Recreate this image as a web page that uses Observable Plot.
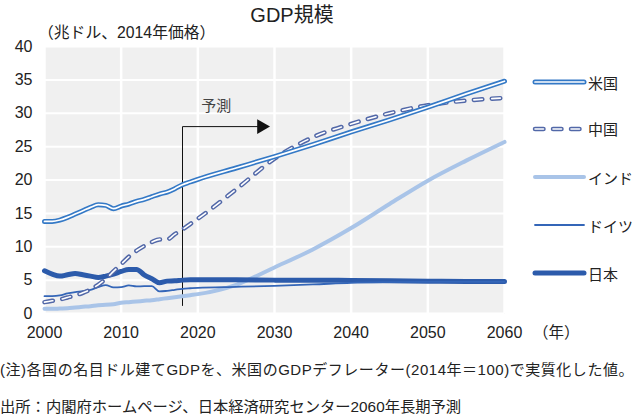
<!DOCTYPE html>
<html>
<head>
<meta charset="utf-8">
<script src="https://cdn.jsdelivr.net/npm/d3@7"></script>
<script src="https://cdn.jsdelivr.net/npm/@observablehq/plot@0.6"></script>
<style>
  html, body { margin: 0; padding: 0; background: #fff; }
  #wrap { position: relative; width: 636px; height: 418px; overflow: hidden;
          font-family: "Liberation Sans", "Noto Sans CJK JP", sans-serif; color: #222; }
  #wrap svg.plot { position: absolute; left: 0; top: 0; }
  .abs { position: absolute; white-space: nowrap; line-height: 1; }
  #title { left: 0; width: 584px; top: 5px; text-align: center; font-size: 20px; }
  #ylab { left: 38px; top: 25px; font-size: 15.8px; }
  #xunit { left: 533px; top: 325px; font-size: 15.5px; }
  #note { left: 0; top: 362px; font-size: 15px; }
  #src { left: 0; top: 399px; font-size: 15.3px; }
  #legend { position: absolute; left: 531px; top: 0; width: 105px; height: 300px; }
  .li { position: absolute; left: 0; width: 105px; display: flex; align-items: center; white-space: nowrap;
        font-size: 15px; line-height: 1; font-family: "Noto Sans CJK JP", sans-serif; }
  .li svg { display: block; margin-right: 1px; flex: none; }
</style>
</head>
<body>
<div id="wrap">
  <div id="title" class="abs">GDP規模</div>
  <div id="ylab" class="abs">（兆ドル、2014年価格）</div>
  <div id="xunit" class="abs">（年）</div>
  <div id="note" class="abs">(注)各国の名目ドル建てGDPを、米国のGDPデフレーター(2014年＝100)で実質化した値。</div>
  <div id="src" class="abs">出所：内閣府ホームページ、日本経済研究センター2060年長期予測</div>
  <div id="legend"></div>
</div>
<script>
// ---- data ----
const years = [2000,2001,2002,2003,2004,2005,2006,2007,2008,2009,2010,2011,2012,2013,2014,2015,2016,2017,2018,2019,2020,2025,2030,2035,2040,2045,2050,2055,2060];
const usa     = [13.8,13.8,14.0,14.4,14.9,15.4,15.9,16.3,16.2,15.7,16.1,16.4,16.8,17.1,17.5,17.9,18.2,18.7,19.3,19.7,20.1,21.8,23.5,25.3,27.2,29.0,30.9,32.9,34.8];
const china   = [1.7,1.9,2.1,2.4,2.7,3.1,3.6,4.3,5.2,6.3,7.4,8.5,9.4,10.1,10.7,11.1,11.1,11.9,12.6,13.4,14.2,18.6,23.2,26.4,28.4,30.0,31.2,31.9,32.3];
const india   = [0.7,0.7,0.75,0.8,0.9,1.0,1.1,1.25,1.3,1.4,1.6,1.7,1.8,1.9,2.0,2.15,2.3,2.45,2.6,2.75,2.9,4.3,6.9,9.6,12.8,16.4,19.9,22.9,25.7];
const germany = [2.6,2.6,2.7,3.0,3.2,3.35,3.55,3.95,4.25,3.9,3.95,4.2,4.05,4.1,4.1,3.3,3.4,3.55,3.7,3.78,3.85,4.0,4.15,4.35,4.6,4.7,4.75,4.75,4.75];
const japan   = [6.4,5.9,5.6,5.8,6.0,5.8,5.6,5.4,5.6,5.9,6.3,6.6,6.6,5.8,5.2,4.6,4.85,4.9,5.0,5.05,5.05,5.05,5.0,5.0,4.95,4.9,4.85,4.8,4.8];

const seriesNames = ["米国","中国","インド","ドイツ","日本"];
const xTicks = [2000,2010,2020,2030,2040,2050,2060];
const yTicks = [0,5,10,15,20,25,30,35,40];

// forecast annotation
const forecastYear = 2018;
const forecastBottom = 1.2;
const forecastTop = 28;
const forecastArrowEnd = 2028.3;
const forecastLabel = "予測";
const forecastLabelPos = {year: 2022.4, value: 31};

// ---- styles ----
const C = {
  usa: "#3479c6", china: "#5268a8", india: "#a9c4e8", germany: "#3466b8", japan: "#2c5bab"
};

const rows = (vals) => years.map((yr, i) => ({year: yr, value: vals[i]}));
const dUS = rows(usa), dCN = rows(china), dIN = rows(india), dDE = rows(germany), dJP = rows(japan);

const arrowPath = [
  {year: forecastYear, value: forecastBottom},
  {year: forecastYear, value: forecastTop},
  {year: forecastArrowEnd, value: forecastTop}
];

const font = '"Liberation Sans", "Noto Sans CJK JP", sans-serif';
const curve = "monotone-x";

const chart = Plot.plot({
  width: 636,
  height: 418,
  marginLeft: 44,
  marginRight: 132,
  marginTop: 46,
  marginBottom: 105,
  x: {domain: [2000, 2060]},
  y: {domain: [0, 40]},
  style: {fontFamily: font, fontSize: "16px", color: "#222", background: "transparent"},
  marks: [
    Plot.frame({fill: "#f0f0f0", stroke: "none"}),
    Plot.gridY(yTicks, {stroke: "#ffffff", strokeOpacity: 1, strokeWidth: 2}),
    Plot.gridX(xTicks, {stroke: "#ffffff", strokeOpacity: 1, strokeWidth: 2.5}),
    Plot.axisX(xTicks, {tickSize: 0, tickPadding: 13, tickFormat: d => String(d), label: null, fontSize: 16}),
    Plot.axisY(yTicks, {tickSize: 0, tickPadding: 12, label: null, fontSize: 16}),
    // forecast bracket
    Plot.line(arrowPath, {x: "year", y: "value", stroke: "#111", strokeWidth: 1, curve: "linear"}),
    Plot.dot([arrowPath[2]], {x: "year", y: "value", symbol: "triangle", rotate: 90, r: 5.5, fill: "#111", stroke: "none"}),
    Plot.text([forecastLabelPos], {x: "year", y: "value", text: () => forecastLabel, fontSize: 15, fill: "#444", fontFamily: '"Noto Sans CJK JP", sans-serif'}),
    // India
    Plot.line(dIN, {x: "year", y: "value", stroke: C.india, strokeWidth: 4, curve}),
    // Japan
    Plot.line(dJP, {x: "year", y: "value", stroke: C.japan, strokeWidth: 5, curve}),
    // Germany
    Plot.line(dDE, {x: "year", y: "value", stroke: C.germany, strokeWidth: 1.8, curve}),
    // China (hollow dashed)
    Plot.line(dCN, {x: "year", y: "value", stroke: C.china, strokeWidth: 4.5, strokeDasharray: "8.5,9.5", strokeLinecap: "round", curve}),
    Plot.line(dCN, {x: "year", y: "value", stroke: "#ffffff", strokeWidth: 1.6, strokeDasharray: "8.5,9.5", strokeLinecap: "round", curve}),
    // USA (double line)
    Plot.line(dUS, {x: "year", y: "value", stroke: C.usa, strokeWidth: 5, curve}),
    Plot.line(dUS, {x: "year", y: "value", stroke: "#ffffff", strokeWidth: 1.7, curve})
  ]
});
chart.classList.add("plot");
document.getElementById("wrap").prepend(chart);

// fit the note line to the full width, as in the reference
const note = document.getElementById("note");
const nChars = note.textContent.length;
const extra = 634 - note.getBoundingClientRect().width;
note.style.letterSpacing = (extra / nChars) + "px";

// ---- legend ----
const legendY = [82, 128.5, 177, 225, 273];
const legendStyles = [
  [{stroke: C.usa, w: 5}, {stroke: "#fff", w: 1.7}],
  [{stroke: C.china, w: 4.5, dash: "8.5,9.5"}, {stroke: "#fff", w: 1.6, dash: "8.5,9.5"}],
  [{stroke: C.india, w: 4}],
  [{stroke: C.germany, w: 1.8}],
  [{stroke: C.japan, w: 5}]
];
const legend = document.getElementById("legend");
seriesNames.forEach((name, i) => {
  const item = document.createElement("div");
  item.className = "li";
  item.style.top = (legendY[i] - 12) + "px";
  const layers = legendStyles[i].map(s =>
    `<line x1="4" y1="12" x2="53" y2="12" stroke="${s.stroke}" stroke-width="${s.w}" stroke-linecap="round"${s.dash ? ` stroke-dasharray="${s.dash}"` : ""}/>`
  ).join("");
  item.innerHTML = `<svg width="56" height="24">${layers}</svg><span>${name}</span>`;
  legend.appendChild(item);
});
</script>
</body>
</html>
